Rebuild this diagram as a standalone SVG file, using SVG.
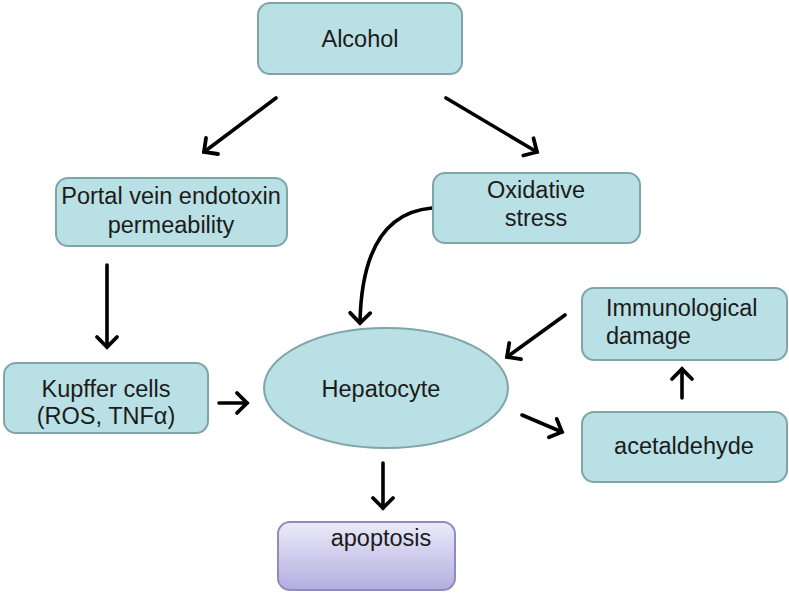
<svg xmlns="http://www.w3.org/2000/svg" width="789" height="599" viewBox="0 0 789 599">
<style>
.box{fill:#b9e0e4;stroke:#80a5a8;stroke-width:2}
.t{font-family:"Liberation Sans",Arial,sans-serif;font-size:23.5px;fill:#1b1b1b;text-anchor:middle}
.c{fill:none;stroke:#000;stroke-width:3.6;stroke-linecap:round}
</style>
<defs>
<marker id="ah" markerUnits="userSpaceOnUse" markerWidth="26" markerHeight="26" refX="13" refY="13" orient="auto" viewBox="0 0 26 26">
<path d="M3,3 L13,13 L3,23" fill="none" stroke="#000" stroke-width="3.8" stroke-linecap="round" stroke-linejoin="miter"/>
</marker>
<linearGradient id="pg" x1="0" y1="0" x2="0" y2="1">
<stop offset="0" stop-color="#ebebfa"/>
<stop offset="1" stop-color="#b3addf"/>
</linearGradient>
</defs>
<rect width="789" height="599" fill="#fff"/>
<g id="connectors">
<line class="c" x1="276" y1="98" x2="204" y2="152" marker-end="url(#ah)"/>
<line class="c" x1="446" y1="98" x2="537" y2="152" marker-end="url(#ah)"/>
<path class="c" d="M432,208 Q362,214 360,323" marker-end="url(#ah)"/>
<line class="c" x1="107" y1="265" x2="107" y2="347" marker-end="url(#ah)"/>
<line class="c" x1="219" y1="403" x2="247" y2="403" marker-end="url(#ah)"/>
<line class="c" x1="565" y1="315" x2="507" y2="357" marker-end="url(#ah)"/>
<line class="c" x1="522" y1="415" x2="562" y2="432" marker-end="url(#ah)"/>
<line class="c" x1="682" y1="398" x2="682" y2="369" marker-end="url(#ah)"/>
<line class="c" x1="383" y1="463" x2="383" y2="508" marker-end="url(#ah)"/>
</g>
<g id="alcohol"><rect class="box" x="258" y="3" width="204" height="71" rx="12"/><text class="t" x="360" y="47">Alcohol</text></g>
<g id="portal"><rect class="box" x="56" y="178" width="231" height="68" rx="12"/><text class="t" x="171" y="204">Portal vein endotoxin</text><text class="t" x="171" y="233">permeability</text></g>
<g id="oxidative"><rect class="box" x="433" y="173" width="207" height="70" rx="12"/><text class="t" x="536" y="198">Oxidative</text><text class="t" x="536" y="226">stress</text></g>
<g id="kupffer"><rect class="box" x="4" y="363" width="204" height="70" rx="12"/><text class="t" x="106" y="397">Kupffer cells</text><text class="t" x="106" y="424">(ROS, TNFα)</text></g>
<g id="hepatocyte"><ellipse class="box" cx="386" cy="388" rx="122" ry="60"/><text class="t" x="381" y="397">Hepatocyte</text></g>
<g id="immunological"><rect class="box" x="582" y="288" width="205" height="72" rx="12"/><text class="t" x="606" y="316" style="text-anchor:start">Immunological</text><text class="t" x="606" y="344" style="text-anchor:start">damage</text></g>
<g id="acetaldehyde"><rect class="box" x="582" y="412" width="205" height="70" rx="12"/><text class="t" x="684" y="454">acetaldehyde</text></g>
<g id="apoptosis"><rect x="278" y="522" width="177" height="68" rx="12" fill="url(#pg)" stroke="#8f8cbf" stroke-width="2"/><text class="t" x="381" y="546">apoptosis</text></g>
</svg>
